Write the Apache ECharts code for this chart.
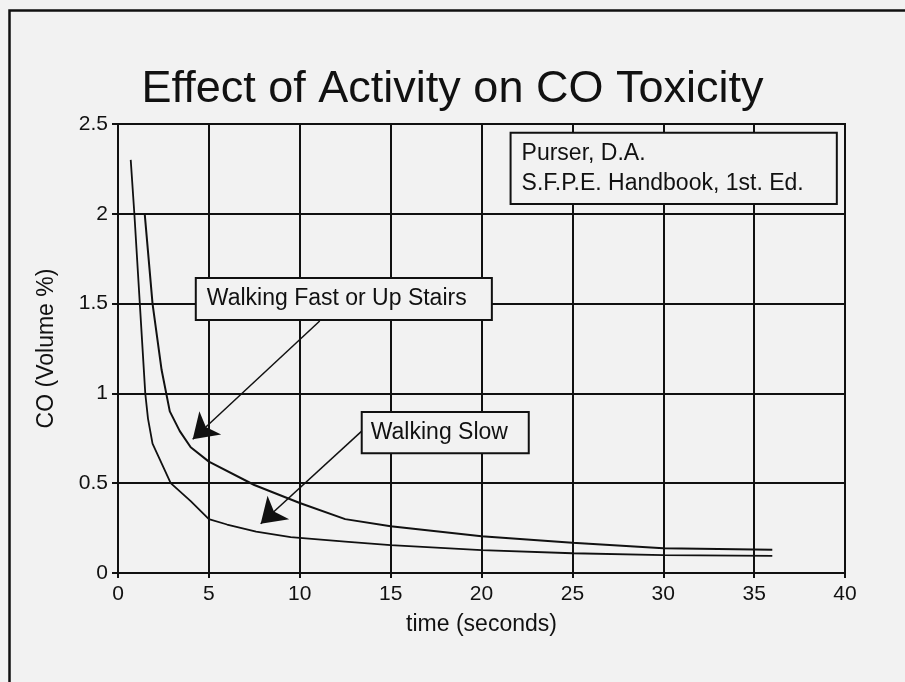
<!DOCTYPE html>
<html>
<head>
<meta charset="utf-8">
<style>
  html, body { margin: 0; padding: 0; background: #f2f2f2; }
  #chart { width: 905px; height: 682px; }
</style>
<script src="https://cdn.jsdelivr.net/npm/echarts@6/dist/echarts.min.js"></script>
</head>
<body>
<div id="chart"></div>
<script>
var FONT = "'Liberation Sans', Arial, Helvetica, sans-serif";
var INK = "#111";

// Walking Slow (lower curve)
var slowTime = [0.7, 0.9, 1.2, 1.5, 1.65, 1.9, 2.9, 4, 5, 6, 7.6, 9.5, 12.5, 15, 20, 25, 30, 36];
var slowCO = [2.3, 2.0, 1.5, 1.0, 0.86, 0.72, 0.5, 0.4, 0.3, 0.27, 0.23, 0.2, 0.175, 0.155, 0.127, 0.11, 0.1, 0.095];

// Walking Fast or Up Stairs (upper curve)
var fastTime = [1.47, 1.9, 2.4, 2.85, 3.4, 4, 5, 7.5, 10, 12.5, 15, 20, 25, 30, 36];
var fastCO = [2.0, 1.5, 1.13, 0.9, 0.79, 0.7, 0.62, 0.49, 0.39, 0.3, 0.26, 0.205, 0.168, 0.138, 0.13];

// annotation boxes: [x1, y1, x2, y2] in data units
var boxFast = [4.28, 1.643, 20.57, 1.409];
var boxSlow = [13.41, 0.896, 22.6, 0.667];
var boxSource = [21.6, 2.451, 39.55, 2.054];
var fastLabel = "Walking Fast or Up Stairs";
var slowLabel = "Walking Slow";
var sourceLines = ["Purser, D.A.", "S.F.P.E. Handbook, 1st. Ed."];

// arrows: [from, to] in data units
var arrowFast = [[11.1, 1.403], [4.11, 0.745]];
var arrowSlow = [[13.41, 0.79], [7.85, 0.274]];

function pairs(xs, ys) {
  var out = [];
  for (var i = 0; i < xs.length; i++) out.push([xs[i], ys[i]]);
  return out;
}

var chart = echarts.init(document.getElementById("chart"));

var option = {
  animation: false,
  backgroundColor: "#f2f2f2",
  title: {
    text: "Effect of Activity on CO Toxicity",
    left: "center",
    top: 62,
    textStyle: { fontFamily: FONT, fontSize: 45, fontWeight: "normal", color: INK }
  },
  grid: {
    left: 118, right: 60, top: 124, bottom: 109,
    show: true, borderColor: INK, borderWidth: 2, backgroundColor: "transparent"
  },
  xAxis: {
    type: "value", min: 0, max: 40, interval: 5,
    name: "time (seconds)", nameLocation: "middle", nameGap: 40,
    nameTextStyle: { fontFamily: FONT, fontSize: 23, color: INK },
    axisLine: { show: true, lineStyle: { color: INK, width: 2 } },
    axisTick: { show: true, length: 5, lineStyle: { color: INK, width: 2 } },
    axisLabel: { fontFamily: FONT, fontSize: 21, color: INK, margin: 11 },
    splitLine: { show: true, lineStyle: { color: INK, width: 2 } }
  },
  yAxis: {
    type: "value", min: 0, max: 2.5, interval: 0.5,
    name: "CO (Volume %)", nameLocation: "middle", nameGap: 60,
    nameTextStyle: { fontFamily: FONT, fontSize: 23, color: INK },
    axisLine: { show: true, lineStyle: { color: INK, width: 2 } },
    axisTick: { show: true, length: 6, lineStyle: { color: INK, width: 2 } },
    axisLabel: { fontFamily: FONT, fontSize: 21, color: INK, margin: 10 },
    splitLine: { show: true, lineStyle: { color: INK, width: 2 } }
  },
  series: [
    {
      name: "Walking Slow", type: "line", data: pairs(slowTime, slowCO),
      showSymbol: false, symbol: "none", silent: true,
      lineStyle: { color: INK, width: 1.8 }
    },
    {
      name: "Walking Fast or Up Stairs", type: "line", data: pairs(fastTime, fastCO),
      showSymbol: false, symbol: "none", silent: true,
      lineStyle: { color: INK, width: 2 },
      markLine: {
        silent: true,
        symbol: ["none", "arrow"],
        symbolSize: 24,
        label: { show: false },
        lineStyle: { color: INK, width: 1.5, type: "solid" },
        emphasis: { disabled: true },
        data: [
          [{ coord: arrowFast[0] }, { coord: arrowFast[1] }],
          [{ coord: arrowSlow[0] }, { coord: arrowSlow[1] }]
        ]
      }
    }
  ]
};
chart.setOption(option);

/**
 * annotation boxes placed from data coords
 */
function makeBox(box, lines, padLeft) {
  var p1 = chart.convertToPixel({ gridIndex: 0 }, [box[0], box[1]]);
  var p2 = chart.convertToPixel({ gridIndex: 0 }, [box[2], box[3]]);
  var w = p2[0] - p1[0], h = p2[1] - p1[1];
  var kids = [{
    type: "rect",
    shape: { x: 0, y: 0, width: w, height: h },
    style: { fill: "#f2f2f2", stroke: INK, lineWidth: 2 }
  }];
  var step = 30;
  var y0 = h / 2 - (lines.length - 1) * step / 2;
  for (var i = 0; i < lines.length; i++) {
    kids.push({
      type: "text",
      x: padLeft, y: y0 + i * step,
      style: { text: lines[i], font: "23px " + FONT, fill: INK, verticalAlign: "middle", align: "left" }
    });
  }
  return { type: "group", x: p1[0], y: p1[1], z: 50, children: kids };
}

chart.setOption({
  graphic: [
    {
      type: "rect", left: 7, top: 8, z: 1, silent: true,
      shape: { x: 0, y: 0, width: 1000, height: 1000 },
      style: { fill: "none", stroke: INK, lineWidth: 2.5 }
    },
    makeBox(boxFast, [fastLabel], 11),
    makeBox(boxSlow, [slowLabel], 9),
    makeBox(boxSource, sourceLines, 11)
  ]
});
</script>
</body>
</html>
